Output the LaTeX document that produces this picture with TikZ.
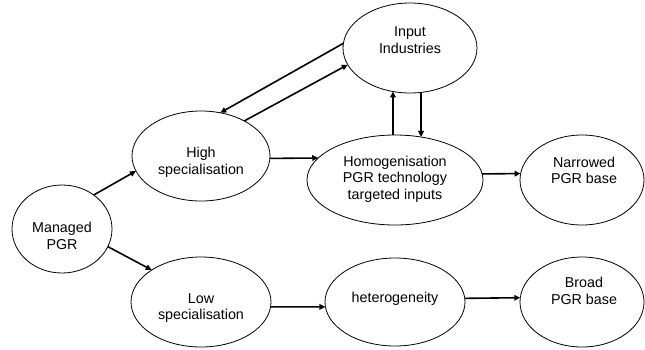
\documentclass[tikz,border=0pt]{standalone}
\usepackage{fontspec}
\setmainfont{Liberation Sans}
\usetikzlibrary{shapes.geometric,arrows.meta}
\begin{document}
\begin{tikzpicture}[x=1pt,y=-1pt,
  ell/.style={draw, ellipse, line width=0.8pt, inner sep=0pt, outer sep=0pt},
  txt/.style={align=center, inner sep=0pt, font=\fontsize{14.3}{16.5}\selectfont},
  arr/.style={line width=1.6pt, -{Triangle[length=6pt,width=5.5pt]}}]
\useasboundingbox (0,0) rectangle (645,349);
% ellipses
\node[ell, minimum width=100pt, minimum height=88pt] (mgd) at (62,229) {};
\node[ell, minimum width=138pt, minimum height=90pt] (hs)  at (201,156) {};
\node[ell, minimum width=134pt, minimum height=90pt] (in)  at (410,48) {};
\node[ell, minimum width=176pt, minimum height=90pt] (hom) at (395,180) {};
\node[ell, minimum width=124pt, minimum height=90pt] (nar) at (582,180) {};
\node[ell, minimum width=140pt, minimum height=90pt] (ls)  at (201,302) {};
\node[ell, minimum width=140pt, minimum height=88pt] (het) at (395,302) {};
\node[ell, minimum width=124pt, minimum height=90pt] (br)  at (582,302) {};
% texts
\node[txt] (mgdt) at (62,236) {Managed\\PGR};
\node[txt] (hst)  at (201,162.5) {High\\specialisation};
\node[txt] (int)  at (410,40) {Input\\Industries};
\node[txt] (homt) at (395,179) {Homogenisation\\PGR technology\\targeted inputs};
\node[txt] (nart) at (584,170.5) {Narrowed\\PGR base};
\node[txt] (lst)  at (201,308) {Low\\specialisation};
\node[txt] (hett) at (395,299) {heterogeneity};
\node[txt] (brt)  at (584,291) {Broad\\PGR base};
% connectors
\draw[arr] (mgd.47) -- (hs.193);
\draw[arr] (mgd.-21) -- (ls.147);
\draw[arr] (hs.-2.5) -- (hom.164);
\draw[arr] (hom.4) -- (nar.174);
\draw[arr] (ls.-4) -- (het.184);
\draw[arr] (het.3) -- (br.176);
\draw[arr] (in.176) -- (hs.66);
\draw[arr] (hs.39) -- (in.195);
\draw[arr] ([xshift=-2pt]hom.north) -- ([xshift=-2pt]hom.north |- in.248);
\draw[arr] (in.284) -- (in.284 |- hom.59);
\end{tikzpicture}
\end{document}
